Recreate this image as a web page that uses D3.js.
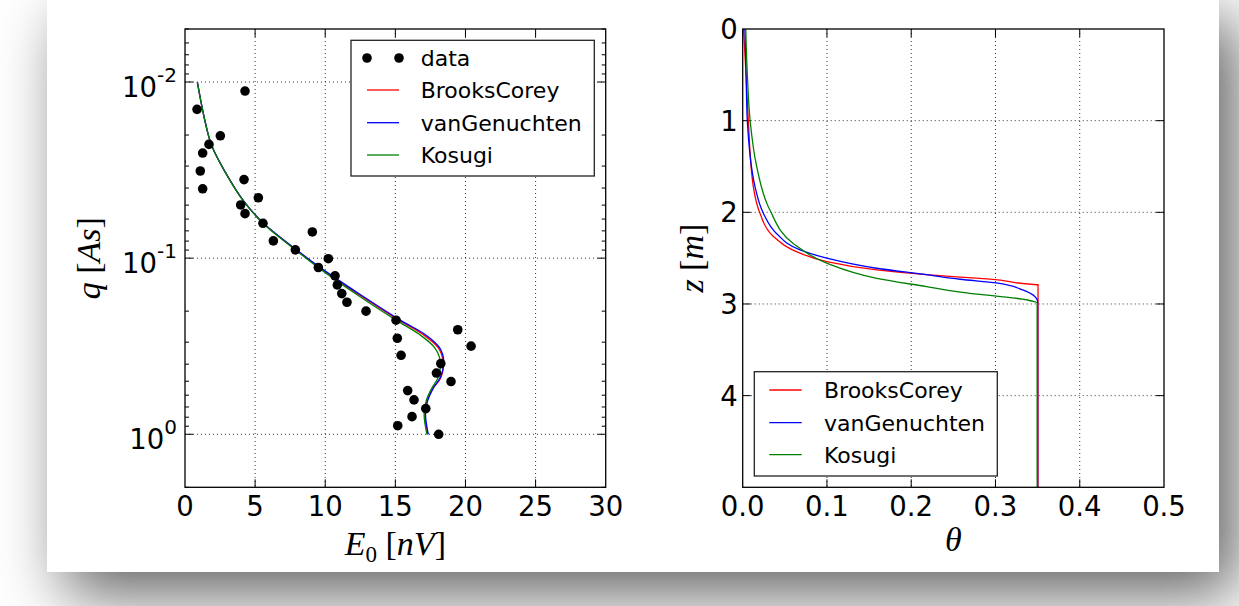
<!DOCTYPE html>
<html>
<head>
<meta charset="utf-8">
<script src="https://cdn.jsdelivr.net/npm/d3@7"></script>
<style>
  html, body { margin: 0; padding: 0; background: #fff; overflow: hidden; }
  .card {
    position: absolute; left: 47px; top: -2px; width: 1172px; height: 574px;
    background: #fff; box-shadow: 18px 22px 60px rgba(0, 0, 0, 0.62);
  }
  svg { position: absolute; left: 0; top: 0; }
  .tick-label { font-family: 'DejaVu Sans', sans-serif; font-size: 27.5px; fill: #000; }
  .legend-label { font-family: 'DejaVu Sans', sans-serif; font-size: 22px; fill: #000; }
  .math { font-family: 'Liberation Serif', serif; font-size: 34px; fill: #000; }
</style>
</head>
<body>
<div class="card"></div>
<svg id="chart" width="1239" height="606"></svg>
<script>
'use strict';

// left panel: measured data
var dataE = [-0.3, 0.86, 4.28, 2.52, 1.71, 1.26, 1.09, 1.26, 4.21, 5.23, 3.97, 4.28, 5.56, 6.30, 9.08, 7.87,
  10.22, 9.51, 10.70, 10.86, 11.18, 11.55, 12.91, 15.05, 15.14, 15.41, 19.45, 20.40, 18.24, 17.93,
  18.97, 15.88, 16.33, 17.17, 16.19, 15.17, 18.09];
var dataQ = [0.0283, 0.0143, 0.01125, 0.0202, 0.0226, 0.0253, 0.032, 0.0404, 0.0358, 0.0454, 0.0499, 0.0559,
  0.0634, 0.0798, 0.071, 0.0897, 0.1007, 0.113, 0.126, 0.142, 0.159, 0.178, 0.2, 0.225, 0.285, 0.356,
  0.255, 0.316, 0.397, 0.449, 0.502, 0.565, 0.638, 0.715, 0.794, 0.894, 1.0];

// left panel: model curves, sampled on a shared q grid
var fitQ = [0.01, 0.0167, 0.0229, 0.0349, 0.0473, 0.0634, 0.0897, 0.1132, 0.162, 0.2249, 0.2704,
  0.3221, 0.3828, 0.4764, 0.547, 0.6457, 0.7691, 1.0];
var fitBrooksCorey = [0.88, 1.43, 1.9, 3.1, 4.17, 5.58, 7.92, 9.6, 12.45, 15.25, 16.95, 18.05, 18.4,
  18.25, 17.7, 17.25, 17.1, 17.3];
var fitVanGenuchten = [0.88, 1.43, 1.9, 3.1, 4.18, 5.6, 7.95, 9.65, 12.55, 15.35, 17.1, 18.15, 18.45,
  18.2, 17.7, 17.3, 17.15, 17.35];
var fitKosugi = [0.88, 1.43, 1.9, 3.09, 4.16, 5.56, 7.87, 9.51, 12.3, 15.05, 16.7, 17.8, 18.2,
  18.05, 17.6, 17.2, 17.05, 17.25];

// right panel: water content profiles theta(z)
var bcZ = [0, 0.5, 1.0, 1.72, 2.01, 2.26, 2.445, 2.537, 2.628, 2.68, 2.707, 2.729, 2.79, 2.79, 5];
var bcTheta = [0.001, 0.004, 0.0067, 0.0126, 0.0205, 0.036, 0.068, 0.0997, 0.159, 0.218, 0.258, 0.2935, 0.349, 0.3505, 0.3505];
var vgZ = [0, 0.5, 1.0, 1.72, 2.01, 2.23, 2.41, 2.50, 2.61, 2.68, 2.73, 2.77, 2.85, 2.92, 2.97, 5];
var vgTheta = [0.0027, 0.004, 0.0055, 0.0146, 0.0245, 0.040, 0.068, 0.0997, 0.159, 0.218, 0.258, 0.301, 0.333, 0.347, 0.35, 0.35];
var koZ = [0, 0.5, 0.99, 1.5, 1.97, 2.34, 2.555, 2.72, 2.81, 2.87, 2.955, 2.99, 5];
var koTheta = [0.0036, 0.0055, 0.0087, 0.0166, 0.032, 0.060, 0.0997, 0.159, 0.218, 0.258, 0.337, 0.3495, 0.3495];

var modelNames = ['BrooksCorey', 'vanGenuchten', 'Kosugi'];
var modelColors = ['#ff0000', '#0000ff', '#008000'];

var leftXTicks = [0, 5, 10, 15, 20, 25, 30];
var leftYTicks = [0.01, 0.1, 1];
var leftYExp = ['-2', '-1', '0'];
var rightXTicks = [0, 0.1, 0.2, 0.3, 0.4, 0.5];
var rightYTicks = [0, 1, 2, 3, 4];

var svg = d3.select('#chart');

var L = { left: 185, right: 605.7, top: 29, bottom: 487.3 },
    R = { left: 742.7, right: 1164, top: 29, bottom: 487.3 };

var xL = d3.scaleLinear().domain([0, 30]).range([L.left, L.right]),
    yL = d3.scaleLog().domain([0.005, 2]).range([L.top, L.bottom]),
    xR = d3.scaleLinear().domain([0, 0.5]).range([R.left, R.right]),
    yR = d3.scaleLinear().domain([0, 5]).range([R.top, R.bottom]);

function clip(id, box) {
  svg.append('clipPath').attr('id', id).append('rect')
    .attr('x', box.left).attr('y', box.top)
    .attr('width', box.right - box.left).attr('height', box.bottom - box.top);
}

function grid(g, box, xs, ys, x, y) {
  g.selectAll('line.gx').data(xs).enter().append('line').attr('class', 'gx')
    .attr('x1', x).attr('x2', x).attr('y1', box.top).attr('y2', box.bottom);
  g.selectAll('line.gy').data(ys).enter().append('line').attr('class', 'gy')
    .attr('y1', y).attr('y2', y).attr('x1', box.left).attr('x2', box.right);
  g.selectAll('line').attr('stroke', '#333').attr('stroke-width', 1).attr('stroke-dasharray', '1,3');
}

// inward ticks on all four sides, no labels
function ticks(box, x, y, xs, ys, yMinor) {
  var g = svg.append('g').attr('stroke', '#000').attr('stroke-width', 1);
  xs.forEach(function (v) {
    g.append('line').attr('x1', x(v)).attr('x2', x(v)).attr('y1', box.bottom).attr('y2', box.bottom - 8);
    g.append('line').attr('x1', x(v)).attr('x2', x(v)).attr('y1', box.top).attr('y2', box.top + 8);
  });
  ys.forEach(function (v) {
    g.append('line').attr('y1', y(v)).attr('y2', y(v)).attr('x1', box.left).attr('x2', box.left + 8);
    g.append('line').attr('y1', y(v)).attr('y2', y(v)).attr('x1', box.right).attr('x2', box.right - 8);
  });
  (yMinor || []).forEach(function (v) {
    g.append('line').attr('y1', y(v)).attr('y2', y(v)).attr('x1', box.left).attr('x2', box.left + 4);
    g.append('line').attr('y1', y(v)).attr('y2', y(v)).attr('x1', box.right).attr('x2', box.right - 4);
  });
}

function frame(box) {
  svg.append('rect').attr('x', box.left).attr('y', box.top)
    .attr('width', box.right - box.left).attr('height', box.bottom - box.top)
    .attr('fill', 'none').attr('stroke', '#000').attr('stroke-width', 1.3);
}

function legend(x0, y0, w, h, rows, lineX, textX) {
  var g = svg.append('g');
  g.append('rect').attr('x', x0).attr('y', y0).attr('width', w).attr('height', h)
    .attr('fill', '#fff').attr('stroke', '#222').attr('stroke-width', 1.3);
  rows.forEach(function (r) {
    if (r.dots) {
      [lineX[0], lineX[1]].forEach(function (cx) {
        g.append('circle').attr('cx', cx).attr('cy', r.y).attr('r', 4.8).attr('fill', '#000');
      });
    } else {
      g.append('line').attr('x1', lineX[0]).attr('x2', lineX[1]).attr('y1', r.y).attr('y2', r.y)
        .attr('stroke', r.color).attr('stroke-width', 1.3);
    }
    g.append('text').attr('class', 'legend-label').attr('x', textX).attr('y', r.y).attr('dy', '0.36em').text(r.name);
  });
}

// ---------- left panel ----------
clip('clipL', L);
grid(svg.append('g'), L, leftXTicks.slice(1, -1), leftYTicks, xL, yL);

var minorL = yL.ticks().filter(function (v) { return leftYTicks.indexOf(v) < 0; });
ticks(L, xL, yL, leftXTicks.slice(1, -1), leftYTicks, minorL);

var plotL = svg.append('g').attr('clip-path', 'url(#clipL)');
[fitBrooksCorey, fitVanGenuchten, fitKosugi].forEach(function (arr, i) {
  var line = d3.line()
    .x(function (d) { return xL(d); })
    .y(function (d, j) { return yL(fitQ[j]); })
    .curve(d3.curveCatmullRom);
  plotL.append('path').attr('d', line(arr)).attr('fill', 'none')
    .attr('stroke', modelColors[i]).attr('stroke-width', 1.3);
});
plotL.selectAll('circle').data(dataE).enter().append('circle')
  .attr('cx', function (d) { return xL(d); })
  .attr('cy', function (d, i) { return yL(dataQ[i]); })
  .attr('r', 4.8).attr('fill', '#000');

frame(L);

svg.append('g').selectAll('text').data(leftXTicks).enter().append('text')
  .attr('class', 'tick-label').attr('text-anchor', 'middle')
  .attr('x', function (d) { return xL(d); }).attr('y', L.bottom + 29).text(function (d) { return d; });

leftYTicks.forEach(function (v, i) {
  var t = svg.append('text').attr('class', 'tick-label').attr('text-anchor', 'end')
    .attr('x', L.left - 8).attr('y', yL(v) + 15).attr('font-size', 30);
  t.append('tspan').text('10');
  t.append('tspan').attr('font-size', 20).attr('dy', -15).text(leftYExp[i]);
});

legend(351, 40.3, 243.3, 135.7, [
  { name: 'data', y: 58, dots: true },
  { name: modelNames[0], y: 90, color: modelColors[0] },
  { name: modelNames[1], y: 122.7, color: modelColors[1] },
  { name: modelNames[2], y: 155, color: modelColors[2] }
], [367, 399], 420.7);

var xlab = svg.append('text').attr('class', 'math').attr('text-anchor', 'middle')
  .attr('x', (L.left + L.right) / 2).attr('y', 555);
xlab.append('tspan').attr('font-style', 'italic').text('E');
xlab.append('tspan').attr('font-size', 23).attr('dy', 7).text('0');
xlab.append('tspan').attr('dy', -7).text(' [');
xlab.append('tspan').attr('font-style', 'italic').text('nV');
xlab.append('tspan').text(']');

var ylab = svg.append('text').attr('class', 'math').attr('text-anchor', 'middle')
  .attr('transform', 'translate(100,' + (L.top + L.bottom) / 2 + ') rotate(-90)');
ylab.append('tspan').attr('font-style', 'italic').text('q');
ylab.append('tspan').text(' [');
ylab.append('tspan').attr('font-style', 'italic').text('As');
ylab.append('tspan').text(']');

// ---------- right panel ----------
clip('clipR', R);
grid(svg.append('g'), R, rightXTicks.slice(1, -1), rightYTicks.slice(1), xR, yR);
ticks(R, xR, yR, rightXTicks.slice(1, -1), rightYTicks.slice(1));

var plotR = svg.append('g').attr('clip-path', 'url(#clipR)');
[[bcTheta, bcZ], [vgTheta, vgZ], [koTheta, koZ]].forEach(function (s, i) {
  var line = d3.line()
    .x(function (d) { return xR(d); })
    .y(function (d, j) { return yR(s[1][j]); })
    .curve(d3.curveMonotoneY);
  plotR.append('path').attr('d', line(s[0])).attr('fill', 'none')
    .attr('stroke', modelColors[i]).attr('stroke-width', 1.3);
});

frame(R);

svg.append('g').selectAll('text').data(rightXTicks).enter().append('text')
  .attr('class', 'tick-label').attr('text-anchor', 'middle')
  .attr('x', function (d) { return xR(d); }).attr('y', R.bottom + 29).text(d3.format('.1f'));

svg.append('g').selectAll('text').data(rightYTicks).enter().append('text')
  .attr('class', 'tick-label').attr('text-anchor', 'end')
  .attr('x', R.left - 5).attr('y', function (d) { return yR(d); }).attr('dy', '0.36em')
  .text(function (d) { return d; });

legend(754.3, 371.7, 243, 104.3, [
  { name: modelNames[0], y: 390, color: modelColors[0] },
  { name: modelNames[1], y: 422.7, color: modelColors[1] },
  { name: modelNames[2], y: 454.7, color: modelColors[2] }
], [769.3, 801.7], 824);

svg.append('text').attr('class', 'math').attr('text-anchor', 'middle').attr('font-style', 'italic')
  .attr('x', (R.left + R.right) / 2).attr('y', 551).text('θ');

var zlab = svg.append('text').attr('class', 'math').attr('text-anchor', 'middle')
  .attr('transform', 'translate(703,' + (R.top + R.bottom) / 2 + ') rotate(-90)');
zlab.append('tspan').attr('font-style', 'italic').text('z');
zlab.append('tspan').text(' [');
zlab.append('tspan').attr('font-style', 'italic').text('m');
zlab.append('tspan').text(']');
</script>
</body>
</html>
